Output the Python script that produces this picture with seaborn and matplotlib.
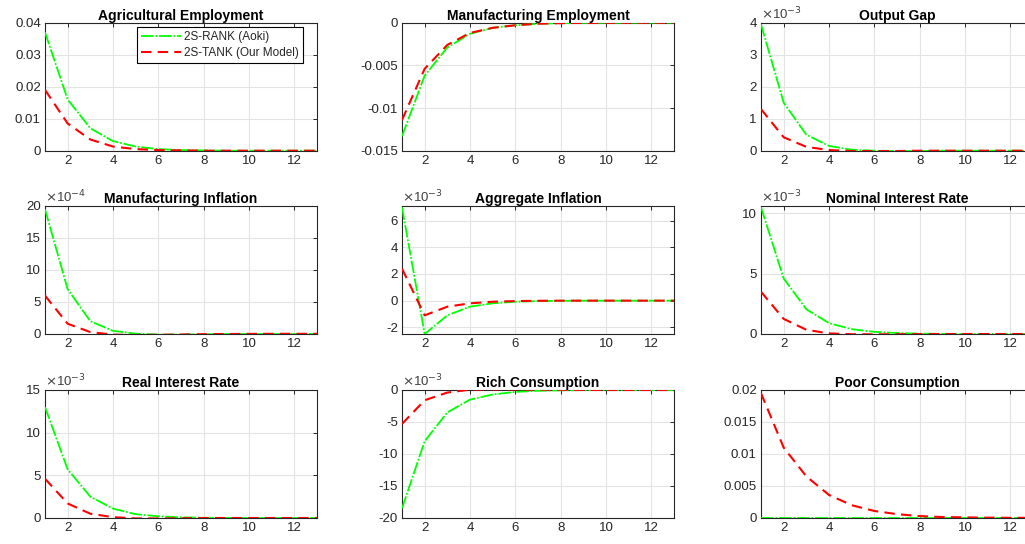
import numpy as np
import pandas as pd
import matplotlib
matplotlib.use("Agg")
import matplotlib.pyplot as plt
from matplotlib.ticker import FuncFormatter, MultipleLocator
import seaborn as sns

periods = list(range(1, 14))

titles = ["Agricultural Employment", "Manufacturing Employment", "Output Gap",
          "Manufacturing Inflation", "Aggregate Inflation", "Nominal Interest Rate",
          "Real Interest Rate", "Rich Consumption", "Poor Consumption"]

series_names = ["2S-RANK (Aoki)", "2S-TANK (Our Model)"]

# Values (actual units)
agri_rank = [0.037, 0.016, 0.007, 0.003, 0.0013, 0.0005, 0.0002, 0.0001, 0.0, 0.0, 0.0, 0.0, 0.0]
agri_tank = [0.019, 0.0085, 0.0035, 0.0013, 0.0005, 0.0002, 0.0001, 0.0, 0.0, 0.0, 0.0, 0.0, 0.0]

manuf_rank = [-0.0133, -0.0062, -0.0029, -0.0013, -0.0006, -0.0003, -0.00012, -0.00005, -0.00002, -0.00001, 0.0, 0.0, 0.0]
manuf_tank = [-0.0114, -0.0054, -0.0026, -0.0012, -0.0006, -0.0003, -0.00012, -0.00005, -0.00002, -0.00001, 0.0, 0.0, 0.0]

gap_rank = [3.95e-3, 1.5e-3, 0.5e-3, 0.15e-3, 0.03e-3, 0.0, -0.01e-3, -0.01e-3, 0.0, 0.0, 0.0, 0.0, 0.0]
gap_tank = [1.3e-3, 0.42e-3, 0.12e-3, 0.02e-3, -0.01e-3, -0.01e-3, -0.01e-3, 0.0, 0.0, 0.0, 0.0, 0.0, 0.0]

minf_rank = [19.5e-4, 7.0e-4, 2.0e-4, 0.5e-4, 0.05e-4, -0.1e-4, -0.1e-4, -0.05e-4, 0.0, 0.0, 0.0, 0.0, 0.0]
minf_tank = [6.0e-4, 1.6e-4, 0.3e-4, -0.1e-4, -0.15e-4, -0.12e-4, -0.08e-4, -0.03e-4, 0.0, 0.02e-4, 0.03e-4, 0.03e-4, 0.03e-4]

ainf_rank = [7.0e-3, -2.5e-3, -1.1e-3, -0.45e-3, -0.2e-3, -0.08e-3, -0.03e-3, -0.01e-3, 0.0, 0.0, 0.0, 0.0, 0.0]
ainf_tank = [2.4e-3, -1.1e-3, -0.45e-3, -0.2e-3, -0.08e-3, -0.03e-3, -0.01e-3, 0.0, 0.0, 0.0, 0.0, 0.0, 0.0]

nom_rank = [10.5e-3, 4.6e-3, 2.05e-3, 0.9e-3, 0.4e-3, 0.18e-3, 0.08e-3, 0.03e-3, 0.01e-3, 0.0, 0.0, 0.0, 0.0]
nom_tank = [3.5e-3, 1.25e-3, 0.35e-3, 0.05e-3, -0.02e-3, -0.03e-3, -0.02e-3, -0.01e-3, 0.0, 0.0, 0.0, 0.0, 0.0]

real_rank = [13.0e-3, 5.7e-3, 2.5e-3, 1.1e-3, 0.45e-3, 0.2e-3, 0.08e-3, 0.03e-3, 0.01e-3, 0.0, 0.0, 0.0, 0.0]
real_tank = [4.6e-3, 1.7e-3, 0.5e-3, 0.1e-3, -0.05e-3, -0.05e-3, -0.03e-3, -0.01e-3, 0.0, 0.0, 0.0, 0.0, 0.0]

rich_rank = [-18.5e-3, -8.0e-3, -3.5e-3, -1.5e-3, -0.7e-3, -0.3e-3, -0.12e-3, -0.05e-3, -0.02e-3, 0.0, 0.0, 0.0, 0.0]
rich_tank = [-5.3e-3, -1.6e-3, -0.4e-3, 0.05e-3, 0.1e-3, 0.08e-3, 0.05e-3, 0.03e-3, 0.01e-3, 0.0, 0.0, 0.0, 0.0]

poor_rank = [0.0] * 13
poor_tank = [0.0195, 0.011, 0.0065, 0.0036, 0.002, 0.0011, 0.0006, 0.0003, 0.00015, 0.0001, 0.00005, 0.00003, 0.00002]

rank_series = [agri_rank, manuf_rank, gap_rank, minf_rank, ainf_rank, nom_rank, real_rank, rich_rank, poor_rank]
tank_series = [agri_tank, manuf_tank, gap_tank, minf_tank, ainf_tank, nom_tank, real_tank, rich_tank, poor_tank]

ylims = [(0, 0.04), (-0.015, 0), (0, 4e-3), (0, 20e-4), (-2.5e-3, 7.1e-3), (0, 10.6e-3),
         (0, 15e-3), (-20e-3, 0), (0, 0.02)]
ysteps = [0.01, 0.005, 1e-3, 5e-4, 2e-3, 5e-3, 5e-3, 5e-3, 0.005]
yexps = [0, 0, -3, -4, -3, -3, -3, -3, 0]
xticks = [2, 4, 6, 8, 10, 12]

sns.set_theme(style="white")
plt.rcParams["font.family"] = ["Liberation Sans", "DejaVu Sans"]
plt.rcParams["axes.unicode_minus"] = False

text_col = "#262626"
green = "#00ff00"
red = "#ff0000"

fig = plt.figure(figsize=(10.25, 5.44), dpi=100)
fig.patch.set_facecolor("white")

lefts = [45, 402, 761]
tops = [22.7, 206, 390]
W, H = 1025.0, 544.0
aw, ah = 272, 128

for i in range(9):
    r, c = divmod(i, 3)
    ax = fig.add_axes([lefts[c] / W, 1 - (tops[r] + ah) / H, aw / W, ah / H])
    df = pd.DataFrame({"period": periods, "rank": rank_series[i], "tank": tank_series[i]})
    sns.lineplot(data=df, x="period", y="rank", ax=ax, color=green, linewidth=1.3,
                 linestyle=(0, (7, 1, 1, 1)), label=series_names[0], legend=False, zorder=3)
    sns.lineplot(data=df, x="period", y="tank", ax=ax, color=red, linewidth=1.5,
                 linestyle=(0, (5, 3)), label=series_names[1], legend=False, zorder=4)
    ax.set_xlim(1, 13)
    ax.set_ylim(*ylims[i])
    ax.set_xticks(xticks)
    ax.yaxis.set_major_locator(MultipleLocator(ysteps[i]))
    e = yexps[i]
    if e == 0:
        ax.yaxis.set_major_formatter(FuncFormatter(lambda v, p: "%g" % round(v, 6)))
    else:
        ax.yaxis.set_major_formatter(FuncFormatter(lambda v, p, e=e: "%g" % round(v / 10 ** e, 6)))
        ax.text(0.0, 1.005, r"$\times$10$^{%d}$" % e, transform=ax.transAxes, ha="left",
                va="bottom", fontsize=9.5, color="#404040")
    ax.set_xlabel("")
    ax.set_ylabel("")
    ax.set_title(titles[i], fontsize=10, fontweight="bold", color="black", pad=2)
    ax.grid(True, color="#e3e3e3", linewidth=0.8)
    ax.set_axisbelow(True)
    for s in ax.spines.values():
        s.set_visible(True)
        s.set_color(text_col)
        s.set_linewidth(0.8)
    ax.tick_params(axis="both", which="both", direction="in", length=3, width=0.7,
                   top=True, right=True, labelsize=9.5, colors=text_col, pad=3)
    ax.set_facecolor("white")
    if i == 0:
        leg = ax.legend(loc="upper right", bbox_to_anchor=(0.95, 0.965), fontsize=8.5,
                        frameon=True, fancybox=False, framealpha=1, edgecolor="black",
                        borderpad=0.35, labelspacing=0.3, handlelength=3.4, handletextpad=0.3,
                        borderaxespad=0.0)
        leg.get_frame().set_linewidth(0.8)

fig.savefig("out.png", dpi=100, facecolor="white")
